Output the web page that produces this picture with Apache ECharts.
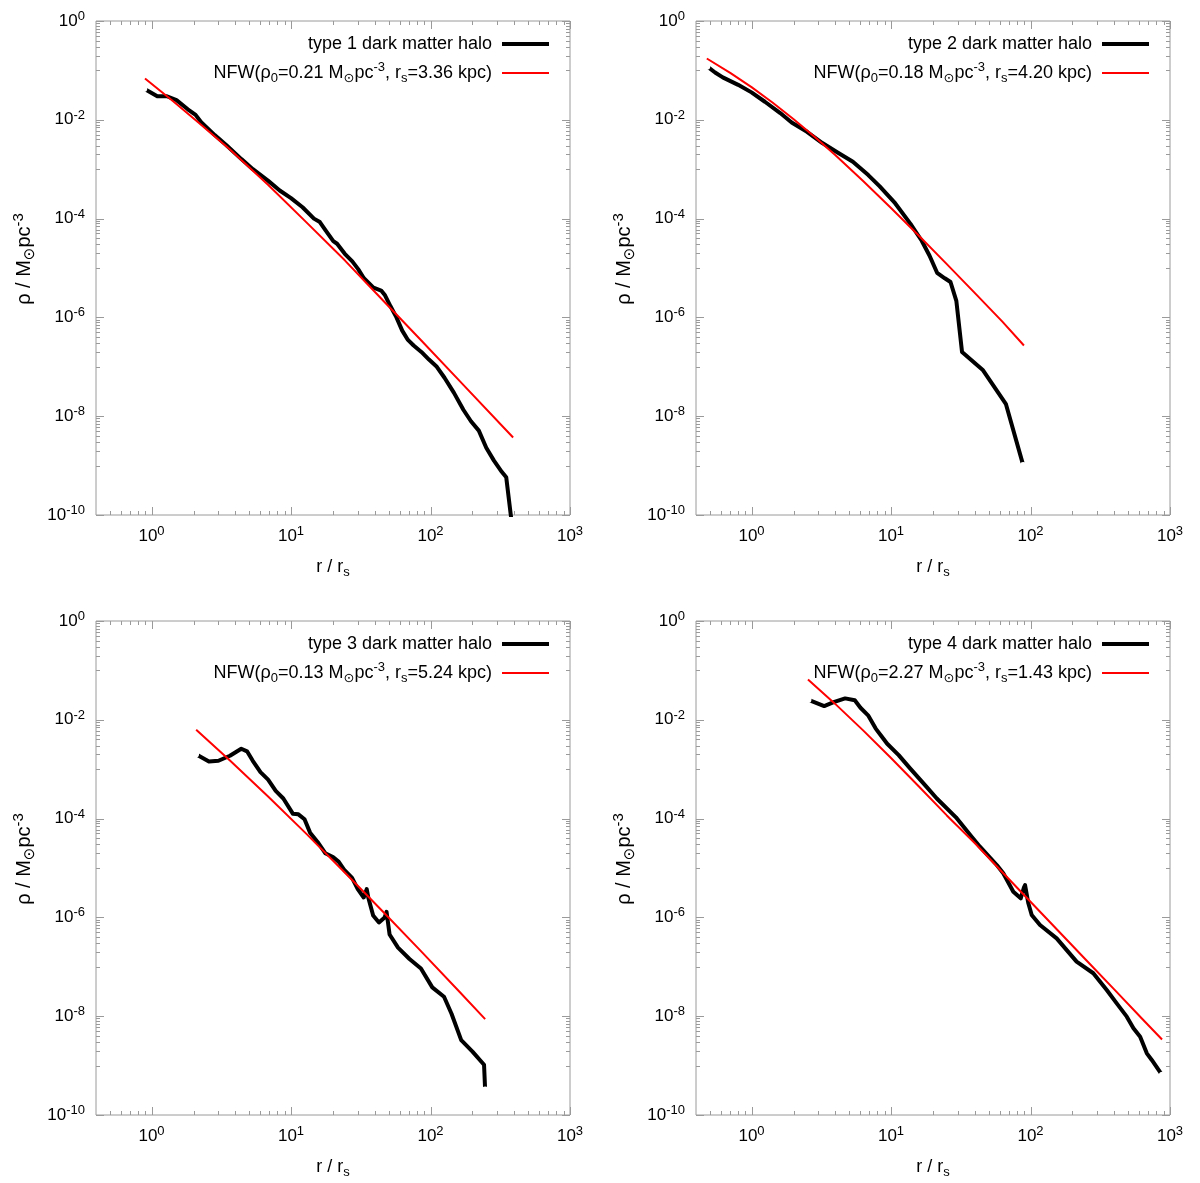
<!DOCTYPE html>
<html>
<head>
<meta charset="utf-8">
<script src="https://cdn.jsdelivr.net/npm/echarts@6/dist/echarts.min.js"></script>
<style>
html, body { margin: 0; padding: 0; background: #ffffff; }
#chart { width: 1200px; height: 1183px; }
</style>
</head>
<body>
<div id="chart"></div>
<script>
// ---------------- data ----------------
// Panel 1: type 1 halo
const halo1R   = [0.88, 1.10, 1.29, 1.51, 1.82, 2.07, 2.27, 2.84, 3.43, 4.41, 5.33, 6.87, 8.3, 10, 12.1, 14.6, 16.1, 17.7, 20.1, 21.4, 24.3, 27.5, 30.3, 33.3, 39, 44.3, 47.2, 51.8, 57, 62.7, 68.9, 75.7, 86, 97.5, 111, 126, 147, 172, 195, 222, 251, 285, 324, 349, 378];
const halo1Rho = [0.043, 0.030, 0.030, 0.025, 0.0163, 0.0126, 0.0089, 0.0049, 0.0031, 0.0016, 0.00100, 5.8e-4, 3.7e-4, 2.6e-4, 1.7e-4, 1.0e-4, 8.5e-5, 5.8e-5, 3.5e-5, 3.1e-5, 1.94e-5, 1.36e-5, 9.5e-6, 6.2e-6, 4.0e-6, 3.5e-6, 2.8e-6, 1.66e-6, 1.0e-6, 5.4e-7, 3.5e-7, 2.7e-7, 2.0e-7, 1.4e-7, 1.0e-7, 6.0e-8, 3.0e-8, 1.35e-8, 7.9e-9, 5.1e-9, 2.3e-9, 1.26e-9, 7.5e-10, 5.8e-10, 9e-11];
const nfw1R    = [0.898, 1.415, 2.20, 3.65, 6.87, 12.9, 24.3, 45.7, 85.9, 161.5, 391];
const nfw1Rho  = [0.0687, 0.0244, 0.00855, 0.00250, 4.8e-4, 8.4e-5, 1.43e-5, 2.2e-6, 3.4e-7, 5.2e-8, 3.7e-9];

// Panel 2: type 2 halo
const halo2R   = [0.478, 0.548, 0.622, 0.802, 1.0, 1.247, 1.607, 1.94, 2.50, 3.22, 4.14, 5.33, 6.87, 8.30, 10.7, 13.8, 16.6, 18.9, 21.4, 24.3, 26.7, 29.4, 32.3, 45.7, 66.7, 88.7];
const halo2Rho = [0.122, 0.0908, 0.0724, 0.0510, 0.0359, 0.0232, 0.0137, 0.00885, 0.00571, 0.00338, 0.00218, 0.00141, 7.6e-4, 4.5e-4, 2.05e-4, 7.8e-5, 3.56e-5, 1.77e-5, 8.0e-6, 6.2e-6, 5.2e-6, 2.16e-6, 2.0e-7, 8.5e-8, 1.75e-8, 1.01e-9];
const nfw2R    = [0.478, 0.708, 1.0, 1.413, 1.995, 2.818, 3.981, 6.31, 10, 15.85, 25.12, 39.81, 63.1, 89.7];
const nfw2Rho  = [0.174, 0.0883, 0.0458, 0.0224, 0.01038, 0.00457, 0.00193, 5.77e-4, 1.64e-4, 4.5e-5, 1.2e-5, 3.14e-6, 8.1e-7, 2.7e-7];

// Panel 3: type 3 halo
const halo3R   = [2.07, 2.58, 3.02, 3.65, 4.40, 4.84, 5.32, 6.04, 6.85, 7.77, 8.81, 10.3, 11.3, 12.5, 13.7, 15.5, 17.6, 20.0, 22.0, 24.2, 27.4, 30.1, 33.2, 34.9, 35.8, 38.8, 42.7, 46.9, 48.4, 50.9, 58.5, 70.7, 85.4, 103, 125, 141.5, 166, 200, 242, 246.5];
const halo3Rho = [0.00204, 0.00143, 0.00148, 0.00187, 0.0026, 0.0023, 0.00148, 8.7e-4, 6.15e-4, 3.63e-4, 2.55e-4, 1.26e-4, 1.22e-4, 9.7e-5, 5.2e-5, 3.37e-5, 1.99e-5, 1.67e-5, 1.33e-5, 9.0e-6, 6.3e-6, 3.73e-6, 2.53e-6, 3.73e-6, 2.53e-6, 1.09e-6, 7.9e-7, 1.0e-6, 1.30e-6, 4.5e-7, 2.44e-7, 1.44e-7, 9.2e-8, 3.83e-8, 2.47e-8, 1.12e-8, 3.27e-9, 1.92e-9, 1.04e-9, 3.2e-10];
const nfw3R    = [2.09, 3.65, 6.85, 12.9, 24.2, 45.5, 85.4, 160, 246.5];
const nfw3Rho  = [0.00628, 0.00150, 2.8e-4, 4.9e-5, 8.2e-6, 1.32e-6, 2.08e-7, 3.2e-8, 8.7e-9];

// Panel 4: type 4 halo
const halo4R   = [2.54, 3.32, 3.88, 4.69, 5.50, 6.04, 6.85, 7.77, 8.55, 9.39, 11.35, 13.7, 17.6, 21.3, 29.2, 37.6, 43.4, 57.3, 63.8, 75.3, 85.1, 89.8, 91.4, 96.5, 102, 117, 154, 214, 282, 352, 415, 490, 547, 611, 682, 740, 881];
const halo4Rho = [0.0257, 0.019, 0.0227, 0.0271, 0.0248, 0.0175, 0.0123, 0.00663, 0.00466, 0.00327, 0.00193, 0.00104, 4.72e-4, 2.55e-4, 1.06e-4, 4.38e-5, 2.7e-5, 1.15e-5, 7.8e-6, 3.3e-6, 2.43e-6, 4.07e-6, 4.5e-6, 1.93e-6, 1.12e-6, 7.0e-7, 3.77e-7, 1.27e-7, 7.4e-8, 3.39e-8, 1.82e-8, 9.8e-9, 5.7e-9, 3.85e-9, 1.77e-9, 1.3e-9, 6.35e-10];
const nfw4R    = [2.54, 3.98, 6.31, 10, 15.85, 25.12, 39.81, 63.1, 100, 158.5, 251.2, 398.1, 631, 877];
const nfw4Rho  = [0.0655, 0.0210, 0.00611, 0.00168, 4.47e-4, 1.16e-4, 3.2e-5, 8.1e-6, 2.08e-6, 5.32e-7, 1.36e-7, 3.5e-8, 8.9e-9, 3.37e-9];

// Legend / fit parameters (text)
const haloTypes = ['1', '2', '3', '4'];
const nfwRho0   = ['0.21', '0.18', '0.13', '2.27'];
const nfwRs     = ['3.36', '4.20', '5.24', '1.43'];

// Axis ticks
const xMajorTicks = [1, 10, 100, 1000];
const xMinorTicks = [0.5, 0.6, 0.7, 0.8, 0.9, 2, 3, 4, 5, 6, 7, 8, 9, 20, 30, 40, 50, 60, 70, 80, 90, 200, 300, 400, 500, 600, 700, 800, 900];
const yMajorTicks = [1e-10, 1e-8, 1e-6, 1e-4, 1e-2, 1];
const yMinorFactors = [0.9, 0.8, 0.7, 0.6, 0.5, 0.4, 0.3, 0.2, 0.1];

// ---------------- layout & style ----------------
const FONT = "'Liberation Sans', Arial, Helvetica, 'DejaVu Sans', sans-serif";
const AXIS_COLOR = '#9a9a9a';
const X_MIN = 0.4, X_MAX = 1000, Y_MIN = 1e-10, Y_MAX = 1;
const gridLeft = [96, 696, 96, 696];
const gridTop = [21, 21, 621, 621];
const GRID_W = 474, GRID_H = 494;
const endMarker = [false, true, true, true]; // curve end visible inside the frame

const haloR = [halo1R, halo2R, halo3R, halo4R];
const haloRho = [halo1Rho, halo2Rho, halo3Rho, halo4Rho];
const nfwR = [nfw1R, nfw2R, nfw3R, nfw4R];
const nfwRho = [nfw1Rho, nfw2Rho, nfw3Rho, nfw4Rho];

function zip(a, b) { return a.map((v, i) => [v, b[i]]); }

const markerItem = { symbol: 'emptyCircle', symbolSize: 5, itemStyle: { color: '#ffffff', borderColor: '#555555', borderWidth: 1 } };
function haloData(i) {
  const pts = zip(haloR[i], haloRho[i]);
  return pts.map((p, k) => {
    if (k === 0 || (k === pts.length - 1 && endMarker[i])) {
      return Object.assign({ value: p }, markerItem);
    }
    return { value: p };
  });
}

const tickRich = {
  b: { fontFamily: FONT, fontSize: 17, color: '#000', lineHeight: 22 },
  s: { fontFamily: FONT, fontSize: 13, color: '#000', lineHeight: 13, verticalAlign: 'top' }
};
const textRich = {
  b:   { fontFamily: FONT, fontSize: 18, color: '#000', lineHeight: 24 },
  sub: { fontFamily: FONT, fontSize: 13, color: '#000', lineHeight: 13, verticalAlign: 'bottom' },
  sup: { fontFamily: FONT, fontSize: 13, color: '#000', lineHeight: 13, verticalAlign: 'top' }
};
const yNameRich = {
  b:   { fontFamily: FONT, fontSize: 20, color: '#000', lineHeight: 26 },
  sub: { fontFamily: FONT, fontSize: 15, color: '#000', lineHeight: 15, verticalAlign: 'bottom' },
  sup: { fontFamily: FONT, fontSize: 15, color: '#000', lineHeight: 15, verticalAlign: 'top' }
};

function powerLabel(value) {
  const e = Math.log10(value);
  const r = Math.round(e);
  if (Math.abs(e - r) > 1e-6) return '';
  return '{b|10}{s|' + r + '}';
}

function haloName(i) { return 'type ' + haloTypes[i] + ' dark matter halo'; }
function nfwName(i) { return 'NFW(ρ0=' + nfwRho0[i] + ' M⊙pc-3, rs=' + nfwRs[i] + ' kpc)'; }
function nfwRichLabel(i) {
  return '{b|NFW(ρ}{sub|0}{b|=' + nfwRho0[i] + ' M}{sub|⊙}{b|pc}{sup|-3}{b|, r}{sub|s}{b|=' + nfwRs[i] + ' kpc)}';
}
const legendLabel = {};
for (let i = 0; i < 4; i++) {
  legendLabel[haloName(i)] = '{b|' + haloName(i) + '}';
  legendLabel[nfwName(i)] = nfwRichLabel(i);
}

// tick data: [x, y, kind]  kind 0 = x major, 1 = x minor, 2 = y major, 3 = y minor
const tickData = [];
xMajorTicks.forEach(v => tickData.push([v, Y_MIN, 0]));
xMinorTicks.forEach(v => tickData.push([v, Y_MIN, 1]));
yMajorTicks.forEach(v => tickData.push([1, v, 2]));
yMajorTicks.slice(1).forEach(top => yMinorFactors.forEach(f => tickData.push([1, top * f, 3])));

function renderTick(params, api) {
  const kind = api.value(2);
  const cs = params.coordSys;
  const len = (kind === 0 || kind === 2) ? 8 : 4;
  const style = { stroke: AXIS_COLOR, lineWidth: 1, fill: null };
  if (kind <= 1) {
    const x = Math.round(api.coord([api.value(0), Y_MIN])[0]) + 0.5;
    const yb = cs.y + cs.height, yt = cs.y;
    return { type: 'group', children: [
      { type: 'line', shape: { x1: x, y1: yb, x2: x, y2: yb - len }, style: style },
      { type: 'line', shape: { x1: x, y1: yt, x2: x, y2: yt + len }, style: style }
    ]};
  }
  const y = Math.round(api.coord([1, api.value(1)])[1]) + 0.5;
  const xl = cs.x, xr = cs.x + cs.width;
  return { type: 'group', children: [
    { type: 'line', shape: { x1: xl, y1: y, x2: xl + len, y2: y }, style: style },
    { type: 'line', shape: { x1: xr, y1: y, x2: xr - len, y2: y }, style: style }
  ]};
}

const grids = [], xAxes = [], yAxes = [], series = [], legends = [];
for (let i = 0; i < 4; i++) {
  grids.push({
    left: gridLeft[i], top: gridTop[i], width: GRID_W, height: GRID_H,
    show: true, borderColor: AXIS_COLOR, borderWidth: 1, backgroundColor: 'transparent',
    containLabel: false, outerBoundsMode: 'none'
  });
  xAxes.push({
    type: 'log', logBase: 10, gridIndex: i, min: X_MIN, max: X_MAX,
    axisLine: { show: false }, axisTick: { show: false }, splitLine: { show: false },
    minorTick: { show: false }, minorSplitLine: { show: false },
    axisLabel: { formatter: powerLabel, margin: 10, rich: tickRich, color: '#000', fontFamily: FONT, fontSize: 17 },
    name: '{b|r / r}{sub|s}', nameLocation: 'middle', nameGap: 40,
    nameTextStyle: { rich: textRich, fontFamily: FONT, fontSize: 18, color: '#000' }
  });
  yAxes.push({
    type: 'log', logBase: 10, gridIndex: i, min: Y_MIN, max: Y_MAX, interval: 2,
    axisLine: { show: false }, axisTick: { show: false }, splitLine: { show: false },
    minorTick: { show: false }, minorSplitLine: { show: false },
    axisLabel: { formatter: powerLabel, margin: 11, rich: tickRich, color: '#000', fontFamily: FONT, fontSize: 17 },
    name: '{b|ρ / M}{sub|⊙}{b|pc}{sup|-3}', nameLocation: 'middle', nameGap: 59, nameRotate: 90,
    nameTextStyle: { rich: yNameRich, fontFamily: FONT, fontSize: 20, color: '#000', padding: [0, 0, 0, 18] }
  });
  series.push({
    type: 'custom', xAxisIndex: i, yAxisIndex: i, data: tickData,
    renderItem: renderTick, silent: true, z: 1, clip: false, animation: false
  });
  series.push({
    type: 'line', name: haloName(i), xAxisIndex: i, yAxisIndex: i,
    data: haloData(i), symbol: 'none', showSymbol: true, clip: true,
    lineStyle: { color: '#000000', width: 4, join: 'round' }, itemStyle: { color: '#000000' },
    z: 3, animation: false
  });
  series.push({
    type: 'line', name: nfwName(i), xAxisIndex: i, yAxisIndex: i,
    data: zip(nfwR[i], nfwRho[i]), symbol: 'none', clip: true,
    lineStyle: { color: '#ff0000', width: 2, join: 'round' }, itemStyle: { color: '#ff0000' },
    z: 4, animation: false
  });
  legends.push({
    data: [
      { name: haloName(i), icon: 'path://M0 0H47V4H0Z', itemStyle: { color: '#000000', borderWidth: 0 } },
      { name: nfwName(i), icon: 'path://M0 0H47V2H0Z', itemStyle: { color: '#ff0000', borderWidth: 0 } }
    ],
    orient: 'vertical', align: 'right',
    right: (i % 2 === 0) ? 651 : 51, top: gridTop[i] + 11,
    itemWidth: 47, itemHeight: 14, itemGap: 5, padding: 0, selectedMode: false,
    formatter: name => legendLabel[name],
    textStyle: { fontFamily: FONT, fontSize: 18, color: '#000', lineHeight: 24, rich: textRich, padding: [0, 5, 0, 0] }
  });
}

const chart = echarts.init(document.getElementById('chart'), null, { renderer: 'canvas' });
chart.setOption({
  animation: false,
  backgroundColor: '#ffffff',
  grid: grids, xAxis: xAxes, yAxis: yAxes, legend: legends, series: series
});
</script>
</body>
</html>
